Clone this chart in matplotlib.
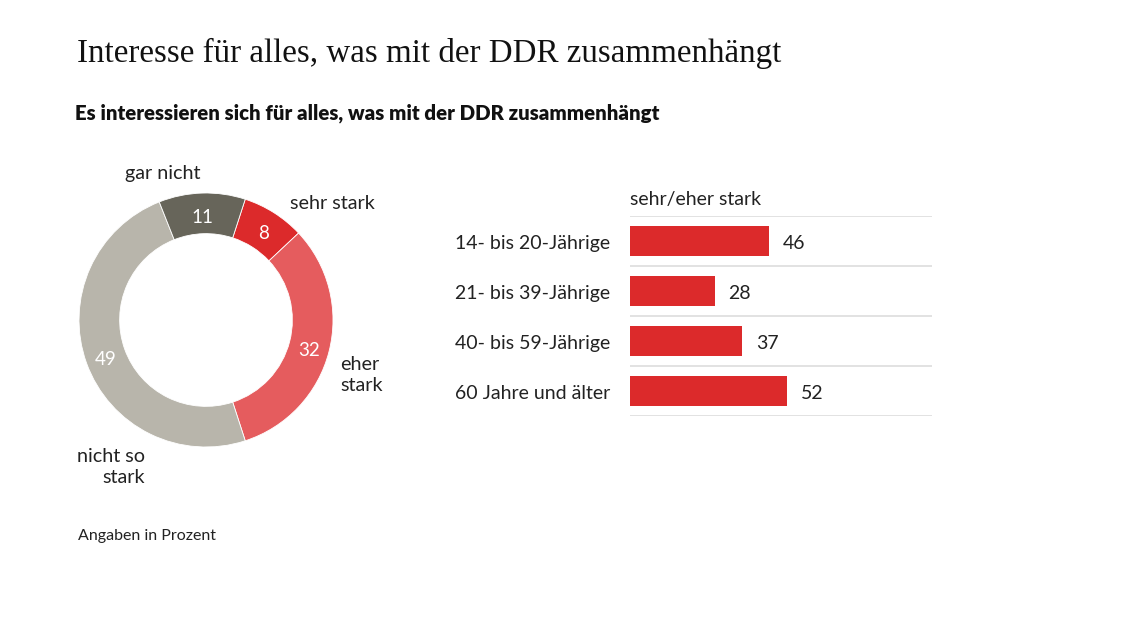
import matplotlib
matplotlib.use("Agg")
import matplotlib.pyplot as plt
import numpy as np

# donut data (clockwise, starting with "sehr stark")
ring_labels = ["sehr stark", "eher\nstark", "nicht so\nstark", "gar nicht"]
ring_values = [8, 32, 49, 11]
ring_colors = ["#dc2a2b", "#e55c5e", "#b8b5ab", "#67655a"]

# bar data
groups = ["14- bis 20-Jährige", "21- bis 39-Jährige", "40- bis 59-Jährige", "60 Jahre und älter"]
strong = [46, 28, 37, 52]

title = "Interesse für alles, was mit der DDR zusammenhängt"
subtitle = "Es interessieren sich für alles, was mit der DDR zusammenhängt"
note = "Angaben in Prozent"

plt.rcParams["font.family"] = ["Lato", "DejaVu Sans"]
txt = "#222222"
W, H = 1136, 639
fig = plt.figure(figsize=(W / 100, H / 100), dpi=100)

fig.text(77 / W, 1 - 53 / H, title, family="Liberation Serif", fontsize=23.8,
         color="#111111", va="center")
fig.text(75 / W, 1 - 113 / H, subtitle, fontsize=14.7, weight="heavy",
         color="#111111", va="center")
fig.text(78 / W, 1 - 536 / H, note, fontsize=11.5, color=txt, va="center")

# donut
cx, cy, r_px, half = 206, 320, 127, 150
ax1 = fig.add_axes([(cx - half) / W, (H - cy - half) / H, 2 * half / W, 2 * half / H])
lim = half / r_px
wedges, _ = ax1.pie(ring_values, colors=ring_colors, startangle=72, counterclock=False,
                    radius=1, wedgeprops=dict(width=0.32, edgecolor="white", linewidth=0.6))
ax1.set_xlim(-lim, lim)
ax1.set_ylim(-lim, lim)
ax1.set_aspect("equal")
ax1.axis("off")
for w, v in zip(wedges, ring_values):
    a = np.deg2rad((w.theta1 + w.theta2) / 2)
    ax1.text(0.84 * np.cos(a), 0.84 * np.sin(a) - 0.03, str(v), color="white",
             fontsize=13.5, ha="center", va="center")

label_pos = {
    "sehr stark": (0.66, 0.92, "left"),
    "eher\nstark": (1.06, -0.43, "left"),
    "nicht so\nstark": (-0.48, -1.16, "right"),
    "gar nicht": (-0.34, 1.15, "center"),
}
for lab in ring_labels:
    x, y, ha = label_pos[lab]
    ax1.text(x, y, lab, fontsize=14.2, color=txt, ha=ha, va="center",
             multialignment=ha, linespacing=1.3, clip_on=False)

# bars
ax2 = fig.add_axes([630 / W, (H - 416) / H, 302 / W, 200 / H])
y = np.arange(len(groups))
ax2.barh(y, strong, height=0.6, color="#dc2a2b")
ax2.set_xlim(0, 100)
ax2.set_ylim(len(groups) - 0.5, -0.5)
for k in range(len(groups) + 1):
    ax2.axhline(k - 0.5, color="#dddddd", lw=1.2, zorder=0)
for i, (g, v) in enumerate(zip(groups, strong)):
    ax2.text(-0.579, i + 0.05, g, transform=ax2.get_yaxis_transform(), fontsize=14,
             color=txt, ha="left", va="center")
    ax2.annotate(str(v), (v, i + 0.05), xytext=(10, 0), textcoords="offset points",
                 fontsize=14, color=txt, ha="left", va="center")
ax2.text(0, 1.04, "sehr/eher stark", transform=ax2.transAxes, fontsize=14,
         color=txt, ha="left", va="bottom")
ax2.axis("off")

fig.savefig("out.png", dpi=100)
